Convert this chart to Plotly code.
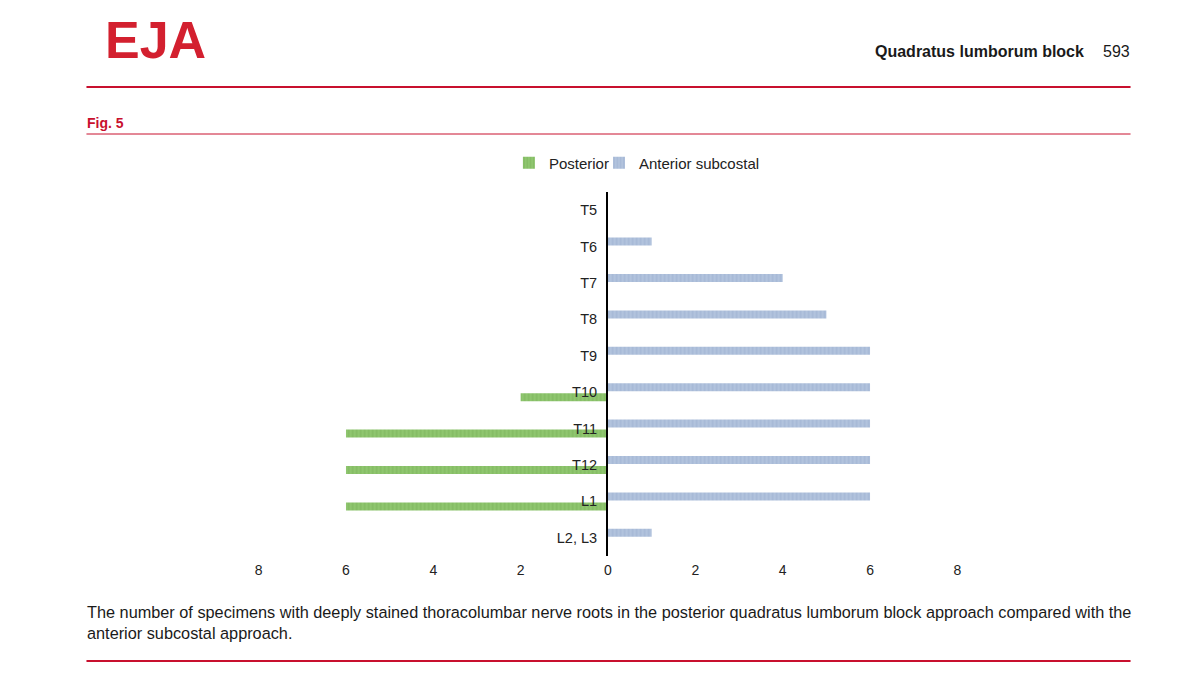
import plotly.graph_objects as go

categories = ["T5", "T6", "T7", "T8", "T9", "T10", "T11", "T12", "L1", "L2, L3"]
posterior = [0, 0, 0, 0, 0, 2, 6, 6, 6, 0]
anterior = [0, 1, 4, 5, 6, 6, 6, 6, 6, 1]
tick_vals = [-8, -6, -4, -2, 0, 2, 4, 6, 8]
tick_text = ["8", "6", "4", "2", "0", "2", "4", "6", "8"]

W, H = 1200, 681
S = 0.9923  # horizontal compensation observed in the rendering
RED = "#c8102e"
GREEN = "#8fc66f"
GREEN_FG = "#74ad55"
BLUE = "#b2c3dd"
BLUE_FG = "#97abcd"

def px(x):
    return (600 + (x - 600) / S) / W

def py(y):
    return 1 - y / H

xdom = [px(259), px(957)]
ydom = [py(556), py(192)]

fig = go.Figure()
fig.add_trace(go.Bar(
    y=categories, x=anterior, orientation="h", name="Anterior subcostal",
    legend="legend2",
    marker=dict(color=BLUE, line=dict(width=0),
                pattern=dict(shape="|", fgcolor=BLUE_FG, bgcolor=BLUE, size=4, solidity=0.35)),
))
fig.add_trace(go.Bar(
    y=categories, x=[-v for v in posterior], orientation="h", name="Posterior",
    legend="legend",
    marker=dict(color=GREEN, line=dict(width=0),
                pattern=dict(shape="|", fgcolor=GREEN_FG, bgcolor=GREEN, size=4, solidity=0.35)),
))

leg_font = dict(family="Liberation Sans, Arial, sans-serif", size=15, color="#222")
fig.update_layout(
    width=W, height=H,
    margin=dict(l=0, r=0, t=0, b=0),
    paper_bgcolor="white", plot_bgcolor="white",
    barmode="group", bargap=0.45, bargroupgap=0.2,
    showlegend=True,
    legend=dict(orientation="h", x=px(509), y=py(163), xanchor="left", yanchor="middle",
                font=leg_font, itemwidth=30, bgcolor="rgba(0,0,0,0)"),
    legend2=dict(orientation="h", x=px(599), y=py(163), xanchor="left", yanchor="middle",
                 font=leg_font, itemwidth=30, bgcolor="rgba(0,0,0,0)"),
    xaxis=dict(domain=xdom, range=[-8, 8], tickvals=tick_vals, ticktext=tick_text,
               showgrid=False, zeroline=False, showline=False, ticks="", ticklabelstandoff=4,
               tickfont=dict(family="Liberation Sans Narrow, Arial Narrow, sans-serif", size=14, color="#222")),
    yaxis=dict(domain=ydom, type="category", categoryorder="array", categoryarray=categories,
               autorange="reversed", anchor="free", position=px(607),
               showline=True, linecolor="black", linewidth=2, ticks="", showgrid=False,
               zeroline=False, ticklabelstandoff=6,
               tickfont=dict(family="Liberation Sans, Arial, sans-serif", size=14.5, color="#222")),
    font=dict(family="Liberation Sans, Arial, sans-serif"),
)

# Page decorations
shapes = [
    dict(type="line", xref="paper", yref="paper", x0=px(87), x1=px(1130), y0=py(87), y1=py(87),
         line=dict(color=RED, width=2)),
    dict(type="line", xref="paper", yref="paper", x0=px(87), x1=px(1130), y0=py(134), y1=py(134),
         line=dict(color=RED, width=1)),
    dict(type="line", xref="paper", yref="paper", x0=px(87), x1=px(1130), y0=py(661), y1=py(661),
         line=dict(color=RED, width=2)),
]
fig.update_layout(shapes=shapes)

anns = [
    dict(text="<b>EJA</b>", x=px(104), y=py(40), xanchor="left", yanchor="middle",
         font=dict(family="Liberation Sans, Arial, sans-serif", size=52, color="#d3202f")),
    dict(text="<b>Quadratus lumborum block</b>", x=px(1085), y=py(51), xanchor="right", yanchor="middle",
         font=dict(family="Liberation Sans, Arial, sans-serif", size=16, color="#1a1a1a")),
    dict(text="593", x=px(1131), y=py(51), xanchor="right", yanchor="middle",
         font=dict(family="Liberation Sans, Arial, sans-serif", size=16, color="#1a1a1a")),
    dict(text="<b>Fig. 5</b>", x=px(86), y=py(123), xanchor="left", yanchor="middle",
         font=dict(family="Liberation Sans, Arial, sans-serif", size=14, color=RED)),
    dict(text="The number of specimens with deeply stained thoracolumbar nerve roots in the posterior quadratus lumborum block approach compared with the<br>anterior subcostal approach.",
         x=px(86), y=py(622), xanchor="left", yanchor="middle", align="left",
         font=dict(family="Liberation Sans, Arial, sans-serif", size=16.3, color="#1a1a1a")),
]
for a in anns:
    a.update(xref="paper", yref="paper", showarrow=False)
fig.update_layout(annotations=anns)

fig.write_html("out.html", config={"displayModeBar": False},
               post_script="document.body.style.margin='0';document.body.style.overflow='hidden';")
